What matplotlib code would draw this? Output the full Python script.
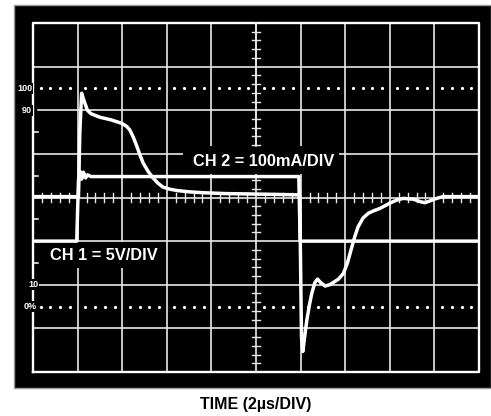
import matplotlib.pyplot as plt
import matplotlib.patches as patches
import numpy as np

plt.rcParams['font.family'] = ['Liberation Sans', 'DejaVu Sans']

# scope trace data, in divisions (x: 0-10, y: 0-8)
ch1_t = [0, 0.98, 1.02, 1.05, 1.09, 1.13, 1.18, 1.22, 1.30, 5.96, 5.99, 10]
ch1_v = [3.0, 3.0, 4.40, 4.60, 4.42, 4.58, 4.45, 4.52, 4.48, 4.48, 3.0, 3.0]

ch2_t = [0, 1.02, 1.05, 1.09, 1.15, 1.22, 1.30, 1.50, 1.75, 1.99, 2.10, 2.17,
         2.25, 2.33, 2.40, 2.47, 2.58, 2.69, 2.80, 2.91, 3.07, 3.23, 3.50, 3.81,
         4.30, 4.93, 5.50, 5.93, 5.98, 6.02, 6.05, 6.09, 6.14, 6.20, 6.25, 6.32,
         6.38, 6.45, 6.55, 6.65, 6.73, 6.85, 6.96, 7.05, 7.15, 7.22, 7.29, 7.40,
         7.52, 7.65, 7.78, 8.00, 8.15, 8.30, 8.53, 8.70, 8.79, 8.92, 9.05, 9.19, 10]
ch2_v = [4.02, 4.02, 5.50, 6.39, 6.20, 6.00, 5.92, 5.84, 5.78, 5.70, 5.63, 5.55,
         5.38, 5.17, 4.97, 4.79, 4.60, 4.45, 4.33, 4.24, 4.19, 4.16, 4.13, 4.11,
         4.09, 4.08, 4.07, 4.06, 4.04, 0.80, 0.47, 0.80, 1.19, 1.55, 1.80, 2.05,
         2.13, 2.05, 1.97, 2.00, 2.05, 2.13, 2.26, 2.50, 2.87, 3.12, 3.33, 3.53,
         3.64, 3.70, 3.75, 3.87, 3.94, 3.98, 3.96, 3.90, 3.88, 3.93, 3.98, 4.02, 4.02]

level_labels = ['100', '90', '10', '0%']
level_y = [6.5, 6.0, 2.0, 1.5]
level_x = [-0.02, -0.02, 0.12, 0.08]

fig = plt.figure(figsize=(4.91, 4.16), dpi=100)
fig.patch.set_facecolor('white')

# black screen
W, H = 491, 416
fig.patches.append(patches.Rectangle((14 / W, (H - 388) / H), (W - 14) / W, 383 / H,
                                     transform=fig.transFigure, facecolor='black',
                                     edgecolor='#9a9a9a', lw=1.0, zorder=-10))

ax = fig.add_axes([33 / W, (H - 372) / H, 446 / W, 349 / H])
ax.set_xlim(0, 10)
ax.set_ylim(0, 8)
ax.axis('off')

grid_c = '#e8e8e8'
for i in range(1, 10):
    ax.plot([i, i], [0, 8], color=grid_c, lw=1.2, zorder=1)
for j in range(1, 8):
    if j in (2, 6):
        ax.plot([0.12, 10], [j, j], color=grid_c, lw=1.2, zorder=1)
    else:
        ax.plot([0, 10], [j, j], color=grid_c, lw=1.2, zorder=1)

# border
ax.plot([0, 10, 10, 0, 0], [0, 0, 8, 8, 0], color='white', lw=1.7, zorder=3,
        clip_on=False)

# dotted 0% / 100% rows
dot_x = [i + 0.17 + 0.22 * k for i in range(10) for k in range(4)]
for yy in (1.5, 6.5):
    ax.plot(dot_x, [yy] * len(dot_x), ls='none', marker='o', ms=2.3,
            color='white', mec='none', zorder=2)

# masks behind channel labels
ax.add_patch(patches.Rectangle((3.36, 4.55), 3.5, 0.63, facecolor='black',
                               edgecolor='none', zorder=2))
ax.add_patch(patches.Rectangle((0.03, 2.38), 2.87, 0.59, facecolor='black',
                               edgecolor='none', zorder=2))

# minor ticks on center lines
for t in np.arange(0.2, 10, 0.2):
    if abs(t - round(t)) > 0.05:
        ax.plot([t, t], [3.9, 4.1], color=grid_c, lw=1.0, zorder=3)
for t in np.arange(0.2, 8, 0.2):
    if abs(t - round(t)) > 0.05 and not (4.5 < t < 5.2):
        ax.plot([4.9, 5.1], [t, t], color=grid_c, lw=1.0, zorder=3)
ax.plot([5, 5], [5.18, 8], color=grid_c, lw=1.2, zorder=3)

# half-division ticks on left border
for t in (2.5, 3.5, 4.5, 5.5):
    ax.plot([0, 0.11], [t, t], color='white', lw=1.1, zorder=3)

# traces
ax.plot(ch1_t, ch1_v, color='white', lw=2.5, zorder=4, solid_joinstyle='round')
ax.plot(ch2_t, ch2_v, color='white', lw=2.5, zorder=4, solid_joinstyle='round')

for lab, x, y in zip(level_labels, level_x, level_y):
    ax.text(x, y, lab, color='white', fontsize=6.5, fontweight='bold',
            ha='right', va='center', zorder=5,
            bbox=dict(facecolor='black', edgecolor='none', pad=0.6))

ax.text(5.16, 4.82, 'CH 2 = 100mA/DIV', color='white', fontsize=11.8,
        fontweight='bold', ha='center', va='center', zorder=5)
ax.text(1.58, 2.66, 'CH 1 = 5V/DIV', color='white', fontsize=11.8,
        fontweight='bold', ha='center', va='center', zorder=5)

fig.text(256 / W, 1 - 405 / H, 'TIME (2µs/DIV)', color='black', fontsize=11.5,
         fontweight='bold', ha='center', va='center')

fig.savefig('out.png', dpi=100, facecolor='white')
